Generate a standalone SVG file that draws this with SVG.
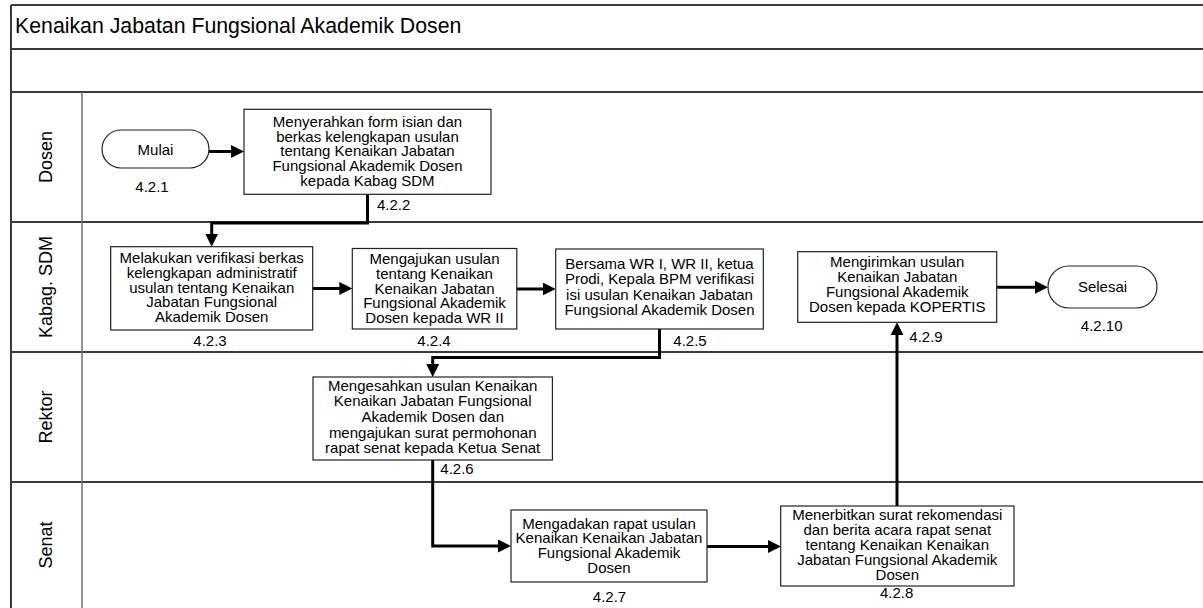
<svg xmlns="http://www.w3.org/2000/svg" width="1203" height="608" viewBox="0 0 1203 608">
<defs>
<style>
.lane{stroke:#3a3a3a;stroke-width:2;fill:none}
.div{stroke:#707070;stroke-width:1.5;fill:none}
.box{fill:#fff;stroke:#222;stroke-width:1.2}
.t{font-family:"Liberation Sans",Arial,sans-serif;font-size:15px;fill:#000;text-anchor:middle}
.lbl{font-family:"Liberation Sans",Arial,sans-serif;font-size:15px;fill:#000}
.ln{font-family:"Liberation Sans",Arial,sans-serif;font-size:18px;fill:#000;text-anchor:middle}
.title{font-family:"Liberation Sans",Arial,sans-serif;font-size:21.3px;fill:#000}
.c{fill:none;stroke:#000;stroke-width:3;marker-end:url(#ah)}
</style>
<marker id="ah" markerUnits="userSpaceOnUse" markerWidth="14" markerHeight="13" refX="9" refY="6.5" orient="auto">
<path d="M0,0 L13,6.5 L0,13 Z" fill="#000"/>
</marker>
</defs>
<rect width="1203" height="608" fill="#fff"/>
<g id="frame">
<path class="lane" d="M11,5 H1203 M11,49 H1203 M11,92 H1203 M11,222 H1203 M11,352 H1203 M11,482 H1203 M11,5 V608"/>
<path class="div" d="M82,92 V608"/>
<text class="title" x="15" y="33">Kenaikan Jabatan Fungsional Akademik Dosen</text>
<text class="ln" transform="translate(52,157) rotate(-90)">Dosen</text>
<text class="ln" transform="translate(52,287) rotate(-90)">Kabag. SDM</text>
<text class="ln" transform="translate(52,417) rotate(-90)">Rektor</text>
<text class="ln" transform="translate(52,545) rotate(-90)">Senat</text>
</g>
<g id="connectors">
<path class="c" d="M209,151.5 H240"/>
<path class="c" d="M367.5,194 V223 H211.7 V242.7"/>
<path class="c" d="M312.7,288.5 H348.3"/>
<path class="c" d="M516.8,289 H551.7"/>
<path class="c" d="M659.5,329 V357.5 H432.7 V373"/>
<path class="c" d="M432.7,460 V546 H507"/>
<path class="c" d="M707,546.5 H777"/>
<path class="c" d="M897,506 V326.3"/>
<path class="c" d="M996.7,287.3 H1044"/>
</g>
<g id="n421">
<rect class="box" x="102" y="130" width="107" height="38" rx="19"/>
<text class="t" x="155.5" y="155">Mulai</text>
<text class="t" x="152" y="192">4.2.1</text>
</g>
<g id="n422">
<rect class="box" x="244" y="109.3" width="247" height="85"/>
<text class="t" x="367.5"><tspan x="367.5" y="127">Menyerahkan form isian dan</tspan><tspan x="367.5" y="141.7">berkas kelengkapan usulan</tspan><tspan x="367.5" y="156.4">tentang Kenaikan Jabatan</tspan><tspan x="367.5" y="171.1">Fungsional Akademik Dosen</tspan><tspan x="367.5" y="185.8">kepada Kabag SDM</tspan></text>
<text class="lbl" x="377" y="210">4.2.2</text>
</g>
<g id="n423">
<rect class="box" x="110.7" y="246.7" width="202" height="83.3"/>
<text class="t"><tspan x="211.7" y="263">Melakukan verifikasi berkas</tspan><tspan x="211.7" y="277.8">kelengkapan administratif</tspan><tspan x="211.7" y="292.6">usulan tentang Kenaikan</tspan><tspan x="211.7" y="307.4">Jabatan Fungsional</tspan><tspan x="211.7" y="322.2">Akademik Dosen</tspan></text>
<text class="t" x="210" y="346">4.2.3</text>
</g>
<g id="n424">
<rect class="box" x="352.3" y="248.5" width="164.5" height="80.5"/>
<text class="t"><tspan x="434.5" y="264">Mengajukan usulan</tspan><tspan x="434.5" y="278.8">tentang Kenaikan</tspan><tspan x="434.5" y="293.6">Kenaikan Jabatan</tspan><tspan x="434.5" y="308.4">Fungsional Akademik</tspan><tspan x="434.5" y="323.2">Dosen kepada WR II</tspan></text>
<text class="t" x="434" y="345.5">4.2.4</text>
</g>
<g id="n425">
<rect class="box" x="555.7" y="249" width="207.6" height="80"/>
<text class="t"><tspan x="659.5" y="269">Bersama WR I, WR II, ketua</tspan><tspan x="659.5" y="284.3">Prodi, Kepala BPM verifikasi</tspan><tspan x="659.5" y="299.6">isi usulan Kenaikan Jabatan</tspan><tspan x="659.5" y="314.9">Fungsional Akademik Dosen</tspan></text>
<text class="lbl" x="673.3" y="345.7">4.2.5</text>
</g>
<g id="n429">
<rect class="box" x="797.7" y="251.7" width="199" height="70.6"/>
<text class="t"><tspan x="897.2" y="267">Mengirimkan usulan</tspan><tspan x="897.2" y="282">Kenaikan Jabatan</tspan><tspan x="897.2" y="297">Fungsional Akademik</tspan><tspan x="897.2" y="312">Dosen kepada KOPERTIS</tspan></text>
<text class="lbl" x="909.3" y="341.7">4.2.9</text>
</g>
<g id="n4210">
<rect class="box" x="1048" y="266" width="109" height="42" rx="21"/>
<text class="t" x="1102.5" y="291.5">Selesai</text>
<text class="t" x="1101.7" y="330.7">4.2.10</text>
</g>
<g id="n426">
<rect class="box" x="313" y="377" width="239.4" height="83"/>
<text class="t"><tspan x="432.7" y="390.5">Mengesahkan usulan Kenaikan</tspan><tspan x="432.7" y="406.2">Kenaikan Jabatan Fungsional</tspan><tspan x="432.7" y="421.9">Akademik Dosen dan</tspan><tspan x="432.7" y="437.6">mengajukan surat permohonan</tspan><tspan x="432.7" y="453.3">rapat senat kepada Ketua Senat</tspan></text>
<text class="t" x="457" y="473.5">4.2.6</text>
</g>
<g id="n427">
<rect class="box" x="511" y="510" width="196" height="72"/>
<text class="t"><tspan x="609" y="528.5">Mengadakan rapat usulan</tspan><tspan x="609" y="543.3">Kenaikan Kenaikan Jabatan</tspan><tspan x="609" y="558.1">Fungsional Akademik</tspan><tspan x="609" y="572.9">Dosen</tspan></text>
<text class="t" x="609.5" y="601.7">4.2.7</text>
</g>
<g id="n428">
<rect class="box" x="780.7" y="506" width="233.3" height="80"/>
<text class="t"><tspan x="897.3" y="519.5">Menerbitkan surat rekomendasi</tspan><tspan x="897.3" y="534.5">dan berita acara rapat senat</tspan><tspan x="897.3" y="549.5">tentang Kenaikan Kenaikan</tspan><tspan x="897.3" y="564.5">Jabatan Fungsional Akademik</tspan><tspan x="897.3" y="579.5">Dosen</tspan></text>
<text class="t" x="896.7" y="598.3">4.2.8</text>
</g>
</svg>
